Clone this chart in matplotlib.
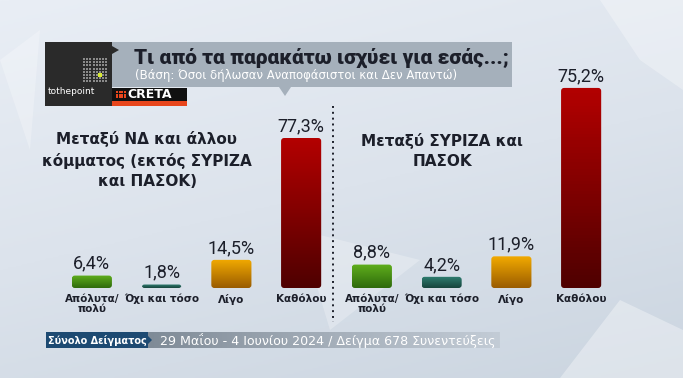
import matplotlib
matplotlib.use("Agg")
import matplotlib.pyplot as plt
import matplotlib.patches as patches
import numpy as np
from matplotlib.colors import LinearSegmentedColormap

# ---- data ----
categories = ["Απόλυτα/\nπολύ", "Όχι και τόσο", "Λίγο", "Καθόλου"]
left_values = [6.4, 1.8, 14.5, 77.3]
right_values = [8.8, 4.2, 11.9, 75.2]
left_title = "Μεταξύ ΝΔ και άλλου\nκόμματος (εκτός ΣΥΡΙΖΑ\nκαι ΠΑΣΟΚ)"
right_title = "Μεταξύ ΣΥΡΙΖΑ και\nΠΑΣΟΚ"
title = "Τι από τα παρακάτω ισχύει για εσάς...;"
subtitle = "(Βάση: Όσοι δήλωσαν Αναποφάσιστοι και Δεν Απαντώ)"
footer_tag = "Σύνολο Δείγματος"
footer_text = "29 Μαΐου - 4 Ιουνίου 2024 / Δείγμα 678 Συνεντεύξεις"

# bar gradients (top colour, bottom colour)
bar_colors = [("#5fae1c", "#2f6b0c"), ("#2f7f72", "#17453d"),
              ("#f2aa00", "#9a5c00"), ("#b30000", "#4f0000")]

W, H = 683, 378
fig = plt.figure(figsize=(W / 100, H / 100), dpi=100)

# ---- background overlay in pixel coords ----
bg = fig.add_axes([0, 0, 1, 1])
bg.set_xlim(0, W)
bg.set_ylim(H, 0)
bg.axis("off")
bgcmap = LinearSegmentedColormap.from_list("bg", ["#e9eef5", "#dce3ec", "#cbd5e0"])
grad = np.linspace(0, 1, 256).reshape(-1, 1) * 0.7 + np.linspace(0, 1, 256).reshape(1, -1) * 0.3
bg.imshow(grad, cmap=bgcmap, extent=[0, W, H, 0], aspect="auto", zorder=0)

# faint star-like shapes
for pts, a in [([(560, 378), (620, 300), (683, 330), (683, 378)], 0.35),
               ([(300, 230), (420, 260), (330, 330)], 0.25),
               ([(600, 0), (683, 0), (683, 90), (640, 60)], 0.3),
               ([(0, 60), (40, 30), (30, 150)], 0.25)]:
    bg.add_patch(patches.Polygon(pts, closed=True, facecolor="white", alpha=a,
                                 edgecolor="none", zorder=1))

# title box
bg.add_patch(patches.Rectangle((112, 42), 400, 45, facecolor="#a5b0bb",
                               edgecolor="none", zorder=2))
bg.add_patch(patches.Polygon([(279, 87), (291, 87), (285, 96)], facecolor="#a5b0bb",
                             edgecolor="none", zorder=2))
bg.text(134, 58, title, fontsize=15, fontweight="black", color="#1c1f2a",
        va="center", ha="left", zorder=3, family="Roboto")
bg.text(135, 76, subtitle, fontsize=8.5, color="white", va="center", ha="left",
        zorder=3, family="DejaVu Sans")

# tothepoint logo
bg.add_patch(patches.Rectangle((45, 42), 67, 64, facecolor="#2a2a2a",
                               edgecolor="none", zorder=3))
bg.add_patch(patches.Polygon([(112, 46), (119, 50), (112, 54)], facecolor="#2a2a2a",
                             edgecolor="none", zorder=3))
gx, gy = np.meshgrid(np.arange(8), np.arange(8))
bg.scatter(84 + gx.ravel() * 3.2, 59 + gy.ravel() * 3.2, s=3, marker="s",
           color="#8a8a8a", zorder=4, linewidths=0)
bg.scatter([84 + 5 * 3.2], [59 + 5 * 3.2], s=5, marker="s", color="#d6e832", zorder=5,
           linewidths=0)
bg.text(48, 91, "tothepoint", fontsize=6.5, color="white", va="center", zorder=4)

# CRETA logo
bg.add_patch(patches.Rectangle((112, 88), 75, 18, facecolor="#111111",
                               edgecolor="none", zorder=4))
bg.add_patch(patches.Rectangle((112, 101), 75, 5, facecolor="#e8461c",
                               edgecolor="none", zorder=5))
cx, cy = np.meshgrid(np.arange(4), np.arange(3))
bg.scatter(117 + cx.ravel() * 2.5, 92 + cy.ravel() * 2.5, s=2, marker="s",
           color="#e8461c", zorder=6, linewidths=0)
bg.text(150, 94.5, "CRETA", fontsize=9, fontweight="bold", color="white",
        ha="center", va="center", zorder=6)

# dotted separator
bg.plot([333, 333], [106, 322], color="#1c1f2a", linestyle=(0, (1, 2)),
        linewidth=1.4, zorder=2)

# panel titles
bg.text(147, 160, left_title, fontsize=11, fontweight="bold", color="#1c1f2a",
        ha="center", va="center", linespacing=1.45, zorder=3)
bg.text(442, 151, right_title, fontsize=11, fontweight="bold", color="#1c1f2a",
        ha="center", va="center", linespacing=1.45, zorder=3)

# footer
bg.add_patch(patches.Rectangle((46, 332), 102, 16, facecolor="#1d4a72",
                               edgecolor="none", zorder=2))
fcmap = LinearSegmentedColormap.from_list("ft", ["#7f8b97", "#a3adb8", "#c3ccd6"])
bg.imshow(np.linspace(0, 1, 128).reshape(1, -1), cmap=fcmap, extent=[148, 500, 348, 332],
          aspect="auto", zorder=2)
bg.add_patch(patches.Polygon([(148, 336), (152, 340), (148, 344)], facecolor="#1d4a72",
                             edgecolor="none", zorder=3))
bg.text(97, 340, footer_tag, fontsize=7, fontweight="bold", color="white",
        ha="center", va="center", zorder=3)
bg.text(160, 340, footer_text, fontsize=9.1, color="white", ha="left",
        va="center", zorder=3)
bg.set_xlim(0, W)
bg.set_ylim(H, 0)


def bar_panel(x0, values, ymax):
    # axes in pixel placement: bottom of bars at y=288, top at y=60
    ax = fig.add_axes([x0 / W, (H - 288) / H, 279 / W, 228 / H])
    ax.patch.set_alpha(0)
    ax.set_xlim(-0.5, 3.5)
    ax.set_ylim(0, ymax)
    for s in ax.spines.values():
        s.set_visible(False)
    ax.set_yticks([])
    x = np.arange(len(values))
    bars = ax.bar(x, values, width=0.575, color="none", edgecolor="none")
    upx = 69.75    # pixels per x unit
    upy = 228 / ymax   # pixels per y unit
    for b, (ct, cb), v in zip(bars, bar_colors, values):
        bx, by, bw, bh = b.get_x(), b.get_y(), b.get_width(), b.get_height()
        rs = 3 / upx
        fb = patches.FancyBboxPatch((bx, by), bw, bh,
                                    boxstyle=f"round,pad=0,rounding_size={rs}",
                                    mutation_aspect=upx / upy,
                                    facecolor="none", edgecolor="none")
        ax.add_patch(fb)
        cm = LinearSegmentedColormap.from_list("g", [cb, ct])
        im = ax.imshow(np.linspace(0, 1, 64).reshape(-1, 1), cmap=cm, origin="lower",
                       extent=[bx, bx + bw, by, by + bh], aspect="auto", zorder=2)
        im.set_clip_path(fb)
        ax.annotate(f"{v:.1f}%".replace(".", ","), (bx + bw / 2, bh),
                    xytext=(0, 2), textcoords="offset points", ha="center",
                    va="bottom", fontsize=13, color="#1c1f2a", family="Roboto")
    ax.set_aspect("auto")
    ax.set_xlim(-0.5, 3.5)
    ax.set_ylim(0, ymax)
    ax.set_xticks(x)
    ax.set_xticklabels(categories, fontsize=7.5, fontweight="bold", color="#1c1f2a",
                       linespacing=1.0)
    ax.tick_params(axis="x", length=0, pad=4)
    return ax


bar_panel(57, left_values, 117.5)
bar_panel(337, right_values, 85.7)

fig.savefig("out.png", dpi=100)
